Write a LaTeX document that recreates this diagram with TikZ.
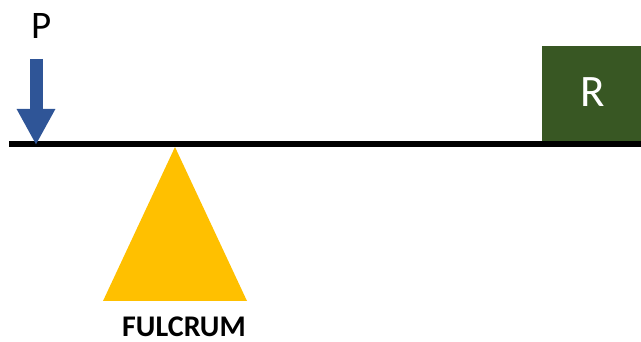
\documentclass[tikz,border=0pt]{standalone}
\usepackage{fontspec}
\setmainfont{Carlito}
\usetikzlibrary{arrows.meta}
\definecolor{forceP}{HTML}{2F5597}
\definecolor{loadR}{HTML}{385723}
\definecolor{fulcrumY}{HTML}{FFC000}

\begin{document}
\begin{tikzpicture}[x=1pt,y=-1pt,>={Triangle[width=36pt,length=36pt]}]
\useasboundingbox (0,0) rectangle (641,342);
% Palanca
\coordinate (leverL) at (9,144);
\coordinate (leverR) at (641,144);
% Resistencia
\fill[loadR] (542,46) rectangle (641,142);
\node[white,font=\fontsize{45}{45}\selectfont] (R) at (593,92) {R};
% Fulcre
\fill[fulcrumY] (175,147) -- (247,301) -- (103,301) -- cycle;
\node[inner sep=0pt,font=\fontsize{30}{30}\bfseries\selectfont] (F) at (184,327) {FULCRUM};
\draw[line width=6.5pt] (leverL) -- (leverR);
% Potencia
\node[font=\fontsize{39}{39}\selectfont] (P) at (42,26) {P};
\coordinate (Ptop) at (36,59);
\coordinate (Ptip) at (36,145);
\draw[->,forceP,line width=13pt] (Ptop) -- (Ptip);
\end{tikzpicture}
\end{document}
